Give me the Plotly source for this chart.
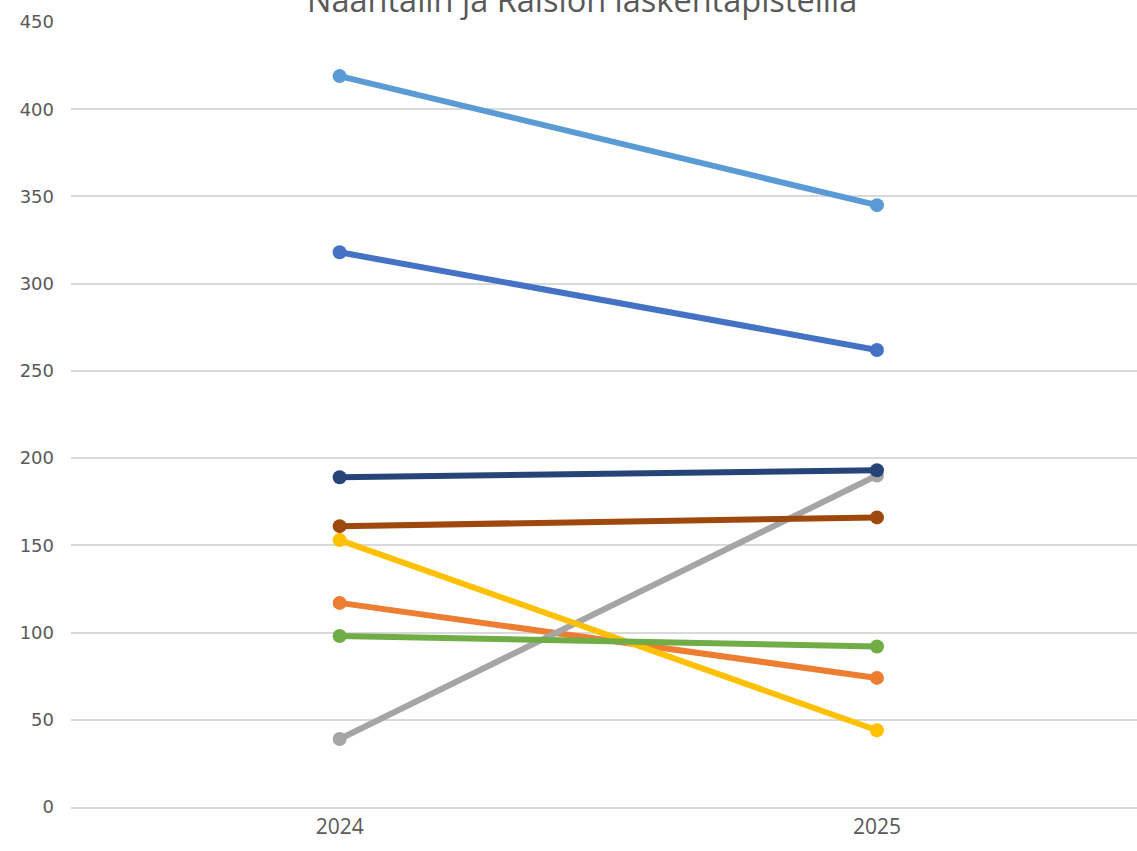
import plotly.graph_objects as go

years = ["2024", "2025"]
series_names = ["Sarja 1", "Sarja 2", "Sarja 3", "Sarja 4", "Sarja 5", "Sarja 6", "Sarja 7", "Sarja 8"]
series_values = [
    [318, 262],
    [117, 74],
    [39, 190],
    [153, 44],
    [419, 345],
    [98, 92],
    [189, 193],
    [161, 166],
]
series_colors = ["#4472C4", "#ED7D31", "#A5A5A5", "#FFC000", "#5B9BD5", "#70AD47", "#264478", "#9E480E"]
title_text = "Naantalin ja Raision laskentapisteillä"

fig = go.Figure()
for name, vals, col in zip(series_names, series_values, series_colors):
    fig.add_trace(go.Scatter(
        x=years, y=vals, name=name, mode="lines+markers",
        line=dict(color=col, width=6),
        marker=dict(color=col, size=14),
    ))

fig.add_annotation(
    text=title_text, xref="paper", yref="paper", x=0.479, y=0.997,
    xanchor="center", yanchor="bottom", showarrow=False,
    font=dict(family="Open Sans, Liberation Sans, sans-serif", size=32.5, color="#595959"),
)

fig.update_layout(
    width=1137, height=851,
    margin=dict(l=71, r=0, t=22, b=44, autoexpand=False),
    paper_bgcolor="white", plot_bgcolor="white",
    showlegend=False,
    font=dict(family="Open Sans, Liberation Sans, sans-serif", color="#595959", size=16),
)
fig.update_xaxes(type="category", range=[-0.5, 1.484], showgrid=False, automargin=False,
                 showline=True, linecolor="#D9D9D9", linewidth=1.5,
                 ticks="", tickfont=dict(family="Open Sans, sans-serif", size=21, color="#595959"))
fig.update_yaxes(range=[0, 450], dtick=50, showgrid=True, gridcolor="#D9D9D9", gridwidth=1.5,
                 zeroline=False, ticks="", ticklabelstandoff=16, automargin=False,
                 tickfont=dict(family="DejaVu Sans, sans-serif", size=18, color="#595959"))

fig.write_html("out.html", config={"displayModeBar": False},
               post_script="document.body.style.margin='0';document.body.style.overflow='hidden';")
